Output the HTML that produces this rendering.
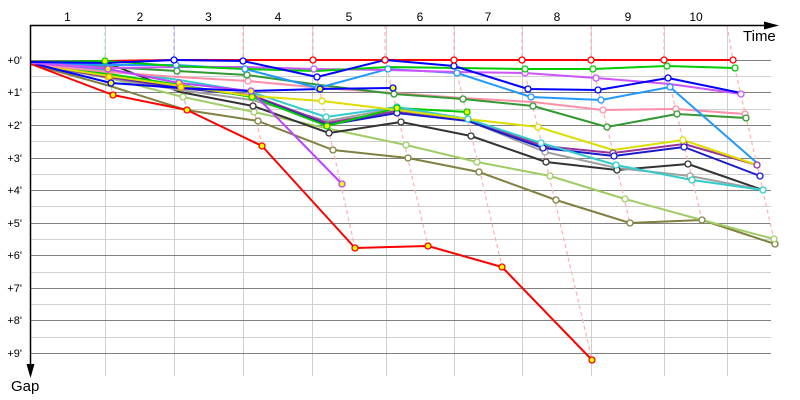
<!DOCTYPE html>
<html><head><meta charset="utf-8"><style>
html,body{margin:0;padding:0;background:#fff;}
svg{display:block;font-family:"Liberation Sans",sans-serif;}
</style></head><body>
<svg width="800" height="400" viewBox="0 0 800 400" xmlns="http://www.w3.org/2000/svg">
<rect width="800" height="400" fill="#fff"/>
<!-- minor grid -->
<g stroke="#d0d0d0" stroke-width="1">
<line x1="30" y1="76.5" x2="771" y2="76.5"/><line x1="30" y1="109.5" x2="771" y2="109.5"/>
<line x1="30" y1="141.5" x2="771" y2="141.5"/><line x1="30" y1="174.5" x2="771" y2="174.5"/>
<line x1="30" y1="206.5" x2="771" y2="206.5"/><line x1="30" y1="239.5" x2="771" y2="239.5"/>
<line x1="30" y1="272.5" x2="771" y2="272.5"/><line x1="30" y1="304.5" x2="771" y2="304.5"/>
<line x1="30" y1="337.5" x2="771" y2="337.5"/>
<line x1="105.5" y1="25" x2="105.5" y2="376"/><line x1="174.5" y1="25" x2="174.5" y2="376"/>
<line x1="243.5" y1="25" x2="243.5" y2="376"/><line x1="312.5" y1="25" x2="312.5" y2="376"/>
<line x1="386.5" y1="25" x2="386.5" y2="376"/><line x1="454.5" y1="25" x2="454.5" y2="376"/>
<line x1="522.5" y1="25" x2="522.5" y2="376"/><line x1="591.5" y1="25" x2="591.5" y2="376"/>
<line x1="664.5" y1="25" x2="664.5" y2="376"/><line x1="727.5" y1="25" x2="727.5" y2="376"/>
</g>
<!-- major grid -->
<g stroke="#808080" stroke-width="1">
<line x1="30" y1="60.5" x2="771" y2="60.5"/><line x1="30" y1="92.5" x2="771" y2="92.5"/>
<line x1="30" y1="125.5" x2="771" y2="125.5"/><line x1="30" y1="158.5" x2="771" y2="158.5"/>
<line x1="30" y1="190.5" x2="771" y2="190.5"/><line x1="30" y1="223.5" x2="771" y2="223.5"/>
<line x1="30" y1="255.5" x2="771" y2="255.5"/><line x1="30" y1="288.5" x2="771" y2="288.5"/>
<line x1="30" y1="320.5" x2="771" y2="320.5"/><line x1="30" y1="353.5" x2="771" y2="353.5"/>
</g>
<!-- labels -->
<g font-size="11" fill="#000" text-anchor="end">
<text x="22" y="64">+0'</text><text x="22" y="96">+1'</text><text x="22" y="129">+2'</text>
<text x="22" y="162">+3'</text><text x="22" y="194">+4'</text><text x="22" y="227">+5'</text>
<text x="22" y="259">+6'</text><text x="22" y="292">+7'</text><text x="22" y="324">+8'</text>
<text x="22" y="357">+9'</text>
</g>
<g font-size="12" fill="#000" text-anchor="middle">
<text x="67.5" y="21">1</text><text x="140" y="21">2</text><text x="208.5" y="21">3</text>
<text x="278" y="21">4</text><text x="349" y="21">5</text><text x="420" y="21">6</text>
<text x="488" y="21">7</text><text x="557" y="21">8</text><text x="628" y="21">9</text>
<text x="696" y="21">10</text>
</g>
<text x="743" y="41" font-size="15" fill="#000">Time</text>
<text x="11" y="391" font-size="15" fill="#000">Gap</text>
<!-- dashed lap lines -->
<g fill="none" stroke-width="1.2" stroke-dasharray="4,3">
<polyline stroke="#b8e0b8" points="105,25 105,61 113,95"/>
<polyline stroke="#b0b0ff" points="174,25 174,60 187,110"/>
<g stroke="#ffb0b0">
<polyline points="243,25 243,60 262,146"/>
<polyline points="313,25 313,60 355,248"/>
<polyline points="385,25 385,60 428,246"/>
<polyline points="454,25 454,60 502,267"/>
<polyline points="522,25 522,60 592,360"/>
<polyline points="591,25 591,60 630,223"/>
<polyline points="664,25 664,60 702,220"/>
<polyline points="727,25 733,60 775,244"/>
</g>
</g>
<!-- series -->
<g fill="none" stroke-width="2" stroke-linejoin="round">
<polyline stroke="#ff0000" points="31,62 105,61 174,60 243,60 313,60 385,60 454,60 522,60 591,60 664,60 733,60"/>
<polyline stroke="#808040" points="31,64 110,86 186,110 258,121 333,150 408,158 479,172 556,200 630,223 702,220 775,244"/>
<polyline stroke="#a0cc66" points="31,64 109,78 183,97 254,112 330,129 406,145 477,162 550,176 625,199 702,220 774,239"/>
<polyline stroke="#333333" points="31,62 105,62 180,92 253,106 329,133 401,122 471,136 546,162 617,170 688,164 763,190"/>
<polyline stroke="#a0a0a0" points="31,64 108,78 180,90 252,100 327,121 398,108 469,121 545,152 617,168 690,176 763,190"/>
<polyline stroke="#993399" points="31,64 108,77 179,88 251,95 327,123 397,111 468,119 543,146 613,153 684,144 757,165"/>
<polyline stroke="#1a1acc" points="31,64 108,76 179,87 251,96 327,125 397,113 468,121 543,148 614,156 684,147 760,176"/>
<polyline stroke="#00cc00" points="31,64 109,74 180,85 252,97 327,126 397,108 467,112"/>
<polyline stroke="#33cccc" points="31,63 107,70 179,80 251,92 326,117 397,107 468,119 541,143 616,165 692,180 763,190"/>
<polyline stroke="#dddd00" points="31,64 109,76 181,86 252,96 322,101 397,110 467,119 538,127 613,150 683,140 757,165"/>
<polyline stroke="#ff8fa8" points="31,64 108,72 178,77 248,81 322,88 394,93 462,98 533,102 603,110 676,109 745,114"/>
<polyline stroke="#339933" points="31,63 108,67 177,71 247,75 320,85 394,94 463,99 533,106 607,127 677,114 746,118"/>
<polyline stroke="#2299ff" points="31,63 107,65 176,65 245,69 318,88 388,69 457,73 531,97 601,100 670,87 757,163"/>
<polyline stroke="#bb44ff" points="31,63 108,69 179,83 251,91 342,184"/>
<polyline stroke="#0000ff" points="31,63 111,83 180,88 251,91 320,89 393,88"/>
<polyline stroke="#ff0000" points="31,64 113,95 187,110 262,146 355,248 428,246 502,267 592,360"/>
<polyline stroke="#cc55ff" points="31,63 108,68 176,67 246,67 314,69 388,70 457,72 525,73 596,78 670,84 741,94"/>
<polyline stroke="#00cc00" points="31,62 105,61 176,66 246,69 316,71 388,67 457,68 525,69 593,69 667,66 735,68"/>
<polyline stroke="#0000ff" points="31,62 107,63 174,60 243,61 317,77 385,60 454,66 528,89 598,90 668,78 741,93"/>
</g>
<!-- markers -->
<g stroke-width="1.3" fill="#fff">
<g stroke="#808040"><circle cx="258" cy="121" r="3"/><circle cx="333" cy="150" r="3"/><circle cx="408" cy="158" r="3"/><circle cx="479" cy="172" r="3"/><circle cx="556" cy="200" r="3"/><circle cx="630" cy="223" r="3"/><circle cx="702" cy="220" r="3"/><circle cx="775" cy="244" r="3"/></g>
<g stroke="#a0cc66"><circle cx="183" cy="97" r="3"/><circle cx="254" cy="112" r="3"/><circle cx="406" cy="145" r="3"/><circle cx="477" cy="162" r="3"/><circle cx="550" cy="176" r="3"/><circle cx="625" cy="199" r="3"/><circle cx="774" cy="239" r="3"/></g>
<g stroke="#333333"><circle cx="253" cy="106" r="3"/><circle cx="329" cy="133" r="3"/><circle cx="401" cy="122" r="3"/><circle cx="471" cy="136" r="3"/><circle cx="546" cy="162" r="3"/><circle cx="617" cy="170" r="3"/><circle cx="688" cy="164" r="3"/></g>
<g stroke="#a0a0a0"><circle cx="545" cy="152" r="3"/><circle cx="690" cy="176" r="3"/></g>
<g stroke="#993399"><circle cx="613" cy="153" r="3"/><circle cx="684" cy="144" r="3"/><circle cx="757" cy="165" r="3"/></g>
<g stroke="#1a1acc"><circle cx="397" cy="113" r="3"/><circle cx="543" cy="148" r="3"/><circle cx="614" cy="156" r="3"/><circle cx="684" cy="147" r="3"/><circle cx="760" cy="176" r="3"/></g>
<g stroke="#33cccc"><circle cx="326" cy="117" r="3"/><circle cx="397" cy="107" r="3"/><circle cx="468" cy="119" r="3"/><circle cx="541" cy="143" r="3"/><circle cx="616" cy="165" r="3"/><circle cx="692" cy="180" r="3"/><circle cx="763" cy="190" r="3"/></g>
<g stroke="#dddd00"><circle cx="322" cy="101" r="3"/><circle cx="538" cy="127" r="3"/><circle cx="683" cy="140" r="3"/></g>
<g stroke="#ff8fa8"><circle cx="248" cy="81" r="3"/><circle cx="603" cy="110" r="3"/><circle cx="676" cy="109" r="3"/><circle cx="745" cy="114" r="3"/></g>
<g stroke="#339933"><circle cx="177" cy="71" r="3"/><circle cx="247" cy="75" r="3"/><circle cx="394" cy="94" r="3"/><circle cx="463" cy="99" r="3"/><circle cx="533" cy="106" r="3"/><circle cx="607" cy="127" r="3"/><circle cx="677" cy="114" r="3"/><circle cx="746" cy="118" r="3"/></g>
<g stroke="#2299ff"><circle cx="176" cy="65" r="3"/><circle cx="245" cy="69" r="3"/><circle cx="318" cy="88" r="3"/><circle cx="388" cy="69" r="3"/><circle cx="457" cy="73" r="3"/><circle cx="531" cy="97" r="3"/><circle cx="601" cy="100" r="3"/><circle cx="670" cy="87" r="3"/></g>
<g stroke="#cc55ff"><circle cx="314" cy="69" r="3"/><circle cx="525" cy="73" r="3"/><circle cx="596" cy="78" r="3"/><circle cx="741" cy="94" r="3"/></g>
<g stroke="#00cc00"><circle cx="525" cy="69" r="3"/><circle cx="593" cy="69" r="3"/><circle cx="667" cy="66" r="3"/><circle cx="735" cy="68" r="3"/></g>
<g stroke="#0000ff"><circle cx="174" cy="60" r="3"/><circle cx="243" cy="61" r="3"/><circle cx="317" cy="77" r="3"/><circle cx="385" cy="60" r="3"/><circle cx="454" cy="66" r="3"/><circle cx="528" cy="89" r="3"/><circle cx="598" cy="90" r="3"/><circle cx="668" cy="78" r="3"/></g>
<g stroke="#ff0000"><circle cx="313" cy="60" r="3"/><circle cx="385" cy="60" r="3"/><circle cx="454" cy="60" r="3"/><circle cx="522" cy="60" r="3"/><circle cx="591" cy="60" r="3"/><circle cx="664" cy="60" r="3"/><circle cx="733" cy="60" r="3"/></g>
</g>
<g stroke-width="1.3" fill="#ffff00">
<g stroke="#00cc00"><circle cx="105" cy="61" r="3"/><circle cx="252" cy="97" r="3"/><circle cx="327" cy="126" r="3"/><circle cx="397" cy="108" r="3"/><circle cx="467" cy="112" r="3"/></g>
<g stroke="#bb44ff"><circle cx="108" cy="69" r="3"/><circle cx="179" cy="83" r="3"/><circle cx="251" cy="91" r="3"/><circle cx="342" cy="184" r="3"/></g>
<g stroke="#ff9900"><circle cx="109" cy="77" r="3"/><circle cx="181" cy="87" r="3"/></g>
<g stroke="#0000ff"><circle cx="111" cy="83" r="3"/><circle cx="320" cy="89" r="3"/><circle cx="393" cy="88" r="3"/></g>
<g stroke="#ff0000"><circle cx="113" cy="95" r="3"/><circle cx="187" cy="110" r="3"/><circle cx="262" cy="146" r="3"/><circle cx="355" cy="248" r="3"/><circle cx="428" cy="246" r="3"/><circle cx="502" cy="267" r="3"/><circle cx="592" cy="360" r="3"/></g>
</g>
<!-- axes -->
<line x1="30" y1="25.5" x2="768" y2="25.5" stroke="#000" stroke-width="1.5"/>
<polygon points="764,21.5 779,25.5 764,29.5" fill="#000"/>
<line x1="30.5" y1="25" x2="30.5" y2="368" stroke="#000" stroke-width="1.5"/>
<polygon points="26.5,364 30.5,378 34.5,364" fill="#000"/>
</svg>
</body></html>
